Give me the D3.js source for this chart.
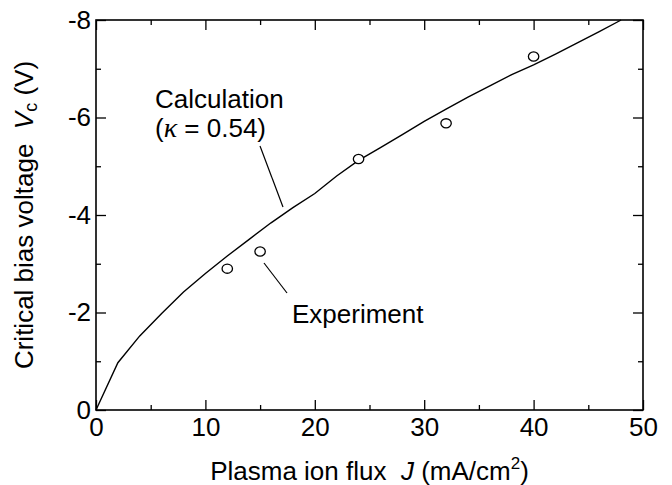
<!DOCTYPE html>
<html>
<head>
<meta charset="utf-8">
<script src="https://cdn.jsdelivr.net/npm/d3@7"></script>
<style>
  body { margin: 0; background: #fff; }
  text { font-family: "Liberation Sans", Arial, Helvetica, sans-serif; fill: #000; white-space: pre; }
</style>
</head>
<body>
<div id="chart"></div>
<script>
// Section 1: Data

// Calculation curve (kappa = 0.54)
var calcJ = [0, 2, 4, 6, 8, 10, 12, 14, 16, 18, 20, 22, 24, 26, 28, 30, 32, 34, 36, 38, 40, 42, 44, 46, 48];
var calcV = [0, -0.97, -1.52, -1.98, -2.42, -2.8, -3.16, -3.5, -3.84, -4.15, -4.44, -4.8, -5.12, -5.38, -5.65, -5.92, -6.17, -6.42, -6.65, -6.88, -7.08, -7.3, -7.53, -7.76, -8.0];

// Experiment points
var expJ = [12, 15, 24, 32, 40];
var expV = [-2.9, -3.25, -5.15, -5.88, -7.25];

// Ticks
var xMajor = [0, 10, 20, 30, 40, 50];
var xMinor = [5, 15, 25, 35, 45];
var yMajor = [0, -2, -4, -6, -8];
var yMinor = [-1, -3, -5, -7];

// Section 2: Layout

var width = 672;
var height = 485;
var margin = { top: 20, right: 29, bottom: 75, left: 96 };
var fontSize = 26;

var svg = d3
  .select("#chart")
  .append("svg")
  .attr("width", width)
  .attr("height", height);

var xScale = d3
  .scaleLinear()
  .domain([0, 50])
  .range([margin.left, width - margin.right]);

var yScale = d3
  .scaleLinear()
  .domain([0, -8])
  .range([height - margin.bottom, margin.top]);

var plotBottom = height - margin.bottom;
var plotRight = width - margin.right;

// Section 3: Axes (ticks point inward on all four sides)

function noDomain(g) {
  g.select(".domain").remove();
  g.selectAll("line").attr("stroke", "#000").attr("stroke-width", 1.3);
  g.attr("font-size", fontSize).attr("font-family", null);
}

function fmt(d) {
  return String(d);
}

// bottom
svg.append("g")
  .attr("transform", "translate(0," + plotBottom + ")")
  .call(d3.axisBottom(xScale).tickValues(xMajor).tickSize(-10).tickPadding(8).tickFormat(fmt))
  .call(noDomain);
svg.append("g")
  .attr("transform", "translate(0," + plotBottom + ")")
  .call(d3.axisBottom(xScale).tickValues(xMinor).tickSize(-5).tickFormat(""))
  .call(noDomain);

// top
svg.append("g")
  .attr("transform", "translate(0," + margin.top + ")")
  .call(d3.axisTop(xScale).tickValues(xMajor).tickSize(-10).tickFormat(""))
  .call(noDomain);
svg.append("g")
  .attr("transform", "translate(0," + margin.top + ")")
  .call(d3.axisTop(xScale).tickValues(xMinor).tickSize(-5).tickFormat(""))
  .call(noDomain);

// left
svg.append("g")
  .attr("transform", "translate(" + margin.left + ",0)")
  .call(d3.axisLeft(yScale).tickValues(yMajor).tickSize(-10).tickPadding(5).tickFormat(fmt))
  .call(noDomain);
svg.append("g")
  .attr("transform", "translate(" + margin.left + ",0)")
  .call(d3.axisLeft(yScale).tickValues(yMinor).tickSize(-5).tickFormat(""))
  .call(noDomain);

// right
svg.append("g")
  .attr("transform", "translate(" + plotRight + ",0)")
  .call(d3.axisRight(yScale).tickValues(yMajor).tickSize(-10).tickFormat(""))
  .call(noDomain);
svg.append("g")
  .attr("transform", "translate(" + plotRight + ",0)")
  .call(d3.axisRight(yScale).tickValues(yMinor).tickSize(-5).tickFormat(""))
  .call(noDomain);

// frame
svg.append("rect")
  .attr("x", margin.left)
  .attr("y", margin.top)
  .attr("width", plotRight - margin.left)
  .attr("height", plotBottom - margin.top)
  .attr("fill", "none")
  .attr("stroke", "#000")
  .attr("stroke-width", 1.6);

// Section 4: Axis titles

var xTitle = svg.append("text")
  .attr("x", (margin.left + plotRight) / 2)
  .attr("y", 480)
  .attr("text-anchor", "middle")
  .attr("font-size", fontSize);
xTitle.append("tspan").text("Plasma ion flux  ");
xTitle.append("tspan").attr("font-style", "italic").text("J");
xTitle.append("tspan").text(" (mA/cm");
xTitle.append("tspan").attr("font-size", 17).attr("dy", -11).text("2");
xTitle.append("tspan").attr("dy", 11).text(")");

var yTitle = svg.append("text")
  .attr("transform", "translate(33," + (margin.top + plotBottom) / 2 + ")rotate(-90)")
  .attr("text-anchor", "middle")
  .attr("font-size", fontSize);
yTitle.append("tspan").text("Critical bias voltage  ");
yTitle.append("tspan").attr("font-style", "italic").text("V");
yTitle.append("tspan").attr("font-size", 18).attr("dy", 4).text("c");
yTitle.append("tspan").attr("dy", -4).text(" (V)");

// Section 5: Data marks

var calcData = calcJ.map(function(j, i) { return { j: j, v: calcV[i] }; });
var expData = expJ.map(function(j, i) { return { j: j, v: expV[i] }; });

var line = d3.line()
  .x(function(d) { return xScale(d.j); })
  .y(function(d) { return yScale(d.v); });

svg.append("path")
  .datum(calcData)
  .attr("d", line)
  .attr("fill", "none")
  .attr("stroke", "#000")
  .attr("stroke-width", 1.4);

svg.selectAll("ellipse.exp")
  .data(expData)
  .enter()
  .append("ellipse")
  .attr("class", "exp")
  .attr("cx", function(d) { return xScale(d.j); })
  .attr("cy", function(d) { return yScale(d.v); })
  .attr("rx", 5.2)
  .attr("ry", 4.6)
  .attr("fill", "#fff")
  .attr("stroke", "#000")
  .attr("stroke-width", 1.3);

// Section 6: Annotations

svg.append("text")
  .attr("x", 155)
  .attr("y", 108)
  .attr("font-size", fontSize)
  .text("Calculation");

var kappaLabel = svg.append("text")
  .attr("x", 155)
  .attr("y", 137)
  .attr("font-size", fontSize);
kappaLabel.append("tspan").text("(");
kappaLabel.append("tspan")
  .attr("font-family", "'Liberation Serif', 'Times New Roman', serif")
  .attr("font-style", "italic")
  .attr("font-size", 28)
  .text("\u03ba");
kappaLabel.append("tspan").text(" = 0.54)");

svg.append("line")
  .attr("x1", 260).attr("y1", 146)
  .attr("x2", 283).attr("y2", 207)
  .attr("stroke", "#000").attr("stroke-width", 1.2);

svg.append("text")
  .attr("x", 292)
  .attr("y", 323)
  .attr("font-size", fontSize)
  .text("Experiment");

svg.append("line")
  .attr("x1", 264).attr("y1", 263)
  .attr("x2", 287).attr("y2", 293)
  .attr("stroke", "#000").attr("stroke-width", 1.2);
</script>
</body>
</html>
